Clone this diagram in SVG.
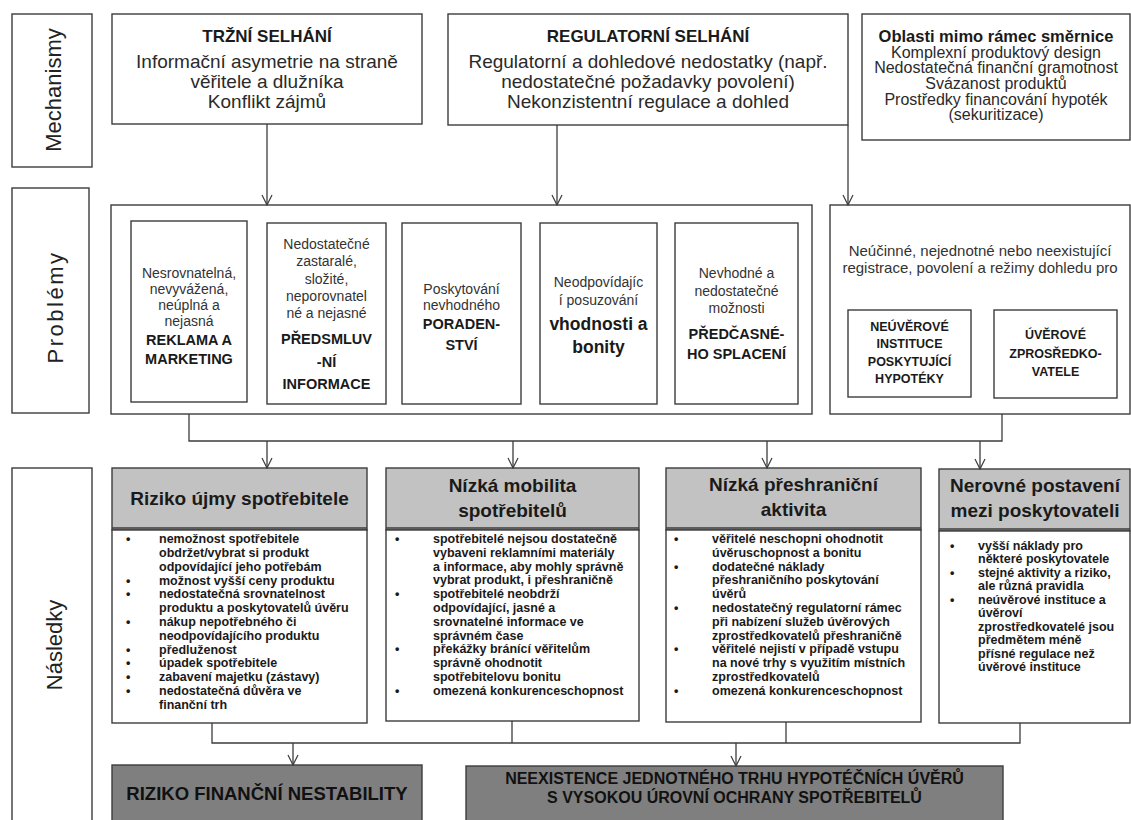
<svg xmlns="http://www.w3.org/2000/svg" width="1131" height="820" viewBox="0 0 1131 820">
<defs>
<style>
text{font-family:"Liberation Sans",Arial,sans-serif;fill:#1a1a1a}
.box{fill:#fff;stroke:#3c3c3c;stroke-width:1.4}
.hdr{fill:#c2c2c2;stroke:#3c3c3c;stroke-width:1.4}
.dark{fill:#7f7f7f;stroke:#3c3c3c;stroke-width:1.4}
.conn{fill:none;stroke:#3c3c3c;stroke-width:1.3}
.arr{marker-end:url(#arr)}
.side{font-size:22px;text-anchor:middle;fill:#222}
.t1{font-size:17px;font-weight:bold;text-anchor:middle}
.t2{font-size:19px;text-anchor:middle;fill:#2a2a2a}
.ob1{font-size:16.5px;font-weight:bold;text-anchor:middle}
.ob2{font-size:16px;text-anchor:middle;fill:#2a2a2a}
.p1{font-size:14px;text-anchor:middle;fill:#333}
.p2{font-size:14.5px;font-weight:bold;text-anchor:middle}
.p3{font-size:17.5px;font-weight:bold;text-anchor:middle}
.p4{font-size:12.5px;font-weight:bold;text-anchor:middle}
.p5{font-size:15px;text-anchor:middle;fill:#333}
.h{font-size:19px;font-weight:bold;text-anchor:middle}
.b{font-size:12.5px;font-weight:bold;fill:#222}
.f1{font-size:18.5px;font-weight:bold;text-anchor:middle;fill:#111}
.f2{font-size:16px;font-weight:bold;text-anchor:middle;fill:#111}
</style>
<marker id="arr" viewBox="0 0 12 12" refX="11" refY="6" markerWidth="12" markerHeight="12" markerUnits="userSpaceOnUse" orient="auto">
<path d="M1,1 L11,6 L1,11" fill="none" stroke="#3c3c3c" stroke-width="1.2"/>
</marker>
</defs>
<rect width="1131" height="820" fill="#fff"/>

<g id="label-mechanismy">
<rect class="box" x="12" y="14" width="80" height="153"/>
<text class="side" font-size="23" transform="translate(61,90) rotate(-90)">Mechanismy</text>
</g>
<g id="label-problemy">
<rect class="box" x="12" y="188" width="77" height="225"/>
<text class="side" letter-spacing="2.5" transform="translate(63,307) rotate(-90)">Problémy</text>
</g>
<g id="label-nasledky">
<rect class="box" x="12" y="468" width="80" height="360"/>
<text class="side" transform="translate(62,645) rotate(-90)">Následky</text>
</g>

<g id="trzni-selhani">
<rect class="box" x="112" y="14" width="310" height="110"/>
<text class="t1" x="267" y="42">TRŽNÍ SELHÁNÍ</text>
<text class="t2" x="267" y="68">Informační asymetrie na straně</text>
<text class="t2" x="267" y="88">věřitele a dlužníka</text>
<text class="t2" x="267" y="108">Konflikt zájmů</text>
</g>
<g id="regulatorni-selhani">
<rect class="box" x="448" y="14" width="400" height="111"/>
<text class="t1" x="648" y="42">REGULATORNÍ SELHÁNÍ</text>
<text class="t2" x="648" y="68">Regulatorní a dohledové nedostatky (např.</text>
<text class="t2" x="648" y="88">nedostatečné požadavky povolení)</text>
<text class="t2" x="648" y="108">Nekonzistentní regulace a dohled</text>
</g>
<g id="oblasti-mimo">
<rect class="box" x="862" y="14" width="268" height="126"/>
<text class="ob1" x="996" y="42">Oblasti mimo rámec směrnice</text>
<text class="ob2" x="996" y="57.5">Komplexní produktový design</text>
<text class="ob2" x="996" y="73">Nedostatečná finanční gramotnost</text>
<text class="ob2" x="996" y="89">Svázanost produktů</text>
<text class="ob2" x="996" y="104.5">Prostředky financování hypoték</text>
<text class="ob2" x="996" y="120">(sekuritizace)</text>
</g>

<g id="problemy-trh">
<rect class="box" x="111" y="205" width="701" height="209"/>
</g>
<g id="reklama">
<rect class="box" x="131" y="221" width="116" height="181"/>
<text class="p1" x="189" y="278">Nesrovnatelná,</text>
<text class="p1" x="189" y="294">nevyvážená,</text>
<text class="p1" x="189" y="310">neúplná a</text>
<text class="p1" x="189" y="326">nejasná</text>
<text class="p2" x="189" y="345">REKLAMA A</text>
<text class="p2" x="189" y="364">MARKETING</text>
</g>
<g id="predsmluvni">
<rect class="box" x="267" y="223" width="119" height="181"/>
<text class="p1" x="326.5" y="249">Nedostatečné</text>
<text class="p1" x="326.5" y="266">zastaralé,</text>
<text class="p1" x="326.5" y="284">složité,</text>
<text class="p1" x="326.5" y="301">neporovnatel</text>
<text class="p1" x="326.5" y="318">né a nejasné</text>
<text class="p2" x="326.5" y="344">PŘEDSMLUV</text>
<text class="p2" x="326.5" y="367">-NÍ</text>
<text class="p2" x="326.5" y="389">INFORMACE</text>
</g>
<g id="poradenstvi">
<rect class="box" x="402" y="223" width="119" height="181"/>
<text class="p1" x="461.5" y="294">Poskytování</text>
<text class="p1" x="461.5" y="310">nevhodného</text>
<text class="p2" x="461.5" y="329">PORADEN-</text>
<text class="p2" x="461.5" y="350">STVÍ</text>
</g>
<g id="vhodnost">
<rect class="box" x="540" y="223" width="117" height="181"/>
<text class="p1" x="598.5" y="287">Neodpovídajíc</text>
<text class="p1" x="598.5" y="305">í posuzování</text>
<text class="p3" x="598.5" y="330">vhodnosti a</text>
<text class="p3" x="598.5" y="353">bonity</text>
</g>
<g id="predcasne-splaceni">
<rect class="box" x="675" y="223" width="123" height="181"/>
<text class="p1" x="736.5" y="278">Nevhodné a</text>
<text class="p1" x="736.5" y="296">nedostatečné</text>
<text class="p1" x="736.5" y="313">možnosti</text>
<text class="p2" x="736.5" y="339">PŘEDČASNÉ-</text>
<text class="p2" x="736.5" y="359">HO SPLACENÍ</text>
</g>
<g id="problemy-regulace">
<rect class="box" x="830" y="205" width="300" height="209"/>
<text class="p5" x="980" y="256">Neúčinné, nejednotné nebo neexistující</text>
<text class="p5" x="980" y="273">registrace, povolení a režimy dohledu pro</text>
</g>
<g id="neuverove-instituce">
<rect class="box" x="848" y="310" width="123" height="87"/>
<text class="p4" x="909.5" y="331">NEÚVĚROVÉ</text>
<text class="p4" x="909.5" y="348">INSTITUCE</text>
<text class="p4" x="909.5" y="366">POSKYTUJÍCÍ</text>
<text class="p4" x="909.5" y="383">HYPOTÉKY</text>
</g>
<g id="uverove-zprostredkovatele">
<rect class="box" x="994" y="310" width="123" height="88"/>
<text class="p4" x="1055.5" y="339">ÚVĚROVÉ</text>
<text class="p4" x="1055.5" y="358">ZPROSŘEDKO-</text>
<text class="p4" x="1055.5" y="376">VATELE</text>
</g>

<g id="riziko-ujmy">
<rect class="hdr" x="112" y="468" width="255" height="62"/>
<line class="conn" x1="112" y1="528" x2="367" y2="528"/>
<rect class="box" x="112" y="530" width="255" height="193"/>
<text class="h" x="239.5" y="505">Riziko újmy spotřebitele</text>
<g class="b">
<text x="126" y="543">•</text><text x="159" y="543">nemožnost spotřebitele</text>
<text x="159" y="557">obdržet/vybrat si produkt</text>
<text x="159" y="571">odpovídající jeho potřebám</text>
<text x="126" y="585">•</text><text x="159" y="585">možnost vyšší ceny produktu</text>
<text x="126" y="598">•</text><text x="159" y="598">nedostatečná srovnatelnost</text>
<text x="159" y="612">produktu a poskytovatelů úvěru</text>
<text x="126" y="626">•</text><text x="159" y="626">nákup nepotřebného či</text>
<text x="159" y="640">neodpovídajícího produktu</text>
<text x="126" y="654">•</text><text x="159" y="654">předluženost</text>
<text x="126" y="667">•</text><text x="159" y="667">úpadek spotřebitele</text>
<text x="126" y="681">•</text><text x="159" y="681">zabavení majetku (zástavy)</text>
<text x="126" y="695">•</text><text x="159" y="695">nedostatečná důvěra ve</text>
<text x="159" y="709">finanční trh</text>
</g>
</g>

<g id="nizka-mobilita">
<rect class="hdr" x="386" y="468" width="253" height="62"/>
<line class="conn" x1="386" y1="528" x2="639" y2="528"/>
<rect class="box" x="386" y="530" width="253" height="191"/>
<text class="h" x="512.5" y="492">Nízká mobilita</text>
<text class="h" x="512.5" y="517">spotřebitelů</text>
<g class="b">
<text x="395" y="543">•</text><text x="433" y="543">spotřebitelé nejsou dostatečně</text>
<text x="433" y="557">vybaveni reklamními materiály</text>
<text x="433" y="571">a informace, aby mohly správně</text>
<text x="433" y="584">vybrat produkt, i přeshraničně</text>
<text x="395" y="598">•</text><text x="433" y="598">spotřebitelé neobdrží</text>
<text x="433" y="612">odpovídající, jasné a</text>
<text x="433" y="626">srovnatelné informace ve</text>
<text x="433" y="640">správném čase</text>
<text x="395" y="653">•</text><text x="433" y="653">překážky bránící věřitelům</text>
<text x="433" y="667">správně ohodnotit</text>
<text x="433" y="681">spotřebitelovu bonitu</text>
<text x="395" y="695">•</text><text x="433" y="695">omezená konkurenceschopnost</text>
</g>
</g>

<g id="nizka-preshranicni">
<rect class="hdr" x="666" y="468" width="255" height="62"/>
<line class="conn" x1="666" y1="528" x2="921" y2="528"/>
<rect class="box" x="666" y="530" width="255" height="192"/>
<text class="h" x="793.5" y="491">Nízká přeshraniční</text>
<text class="h" x="793.5" y="516">aktivita</text>
<g class="b">
<text x="674" y="543">•</text><text x="712" y="543">věřitelé neschopni ohodnotit</text>
<text x="712" y="557">úvěruschopnost a bonitu</text>
<text x="674" y="571">•</text><text x="712" y="571">dodatečné náklady</text>
<text x="712" y="584">přeshraničního poskytování</text>
<text x="712" y="598">úvěrů</text>
<text x="674" y="612">•</text><text x="712" y="612">nedostatečný regulatorní rámec</text>
<text x="712" y="626">při nabízení služeb úvěrových</text>
<text x="712" y="640">zprostředkovatelů přeshraničně</text>
<text x="674" y="653">•</text><text x="712" y="653">věřitelé nejistí v případě vstupu</text>
<text x="712" y="667">na nové trhy s využitím místních</text>
<text x="712" y="681">zprostředkovatelů</text>
<text x="674" y="695">•</text><text x="712" y="695">omezená konkurenceschopnost</text>
</g>
</g>

<g id="nerovne-postaveni">
<rect class="hdr" x="939" y="469" width="191" height="62"/>
<line class="conn" x1="939" y1="529" x2="1130" y2="529"/>
<rect class="box" x="939" y="531" width="191" height="192"/>
<text class="h" x="1035" y="492">Nerovné postavení</text>
<text class="h" x="1035" y="517">mezi poskytovateli</text>
<g class="b">
<text x="950" y="550">•</text><text x="978" y="550">vyšší náklady pro</text>
<text x="978" y="563">některé poskytovatele</text>
<text x="950" y="577">•</text><text x="978" y="577">stejné aktivity a riziko,</text>
<text x="978" y="590">ale různá pravidla</text>
<text x="950" y="604">•</text><text x="978" y="604">neúvěrové instituce a</text>
<text x="978" y="617">úvěroví</text>
<text x="978" y="631">zprostředkovatelé jsou</text>
<text x="978" y="644">předmětem méně</text>
<text x="978" y="658">přísné regulace než</text>
<text x="978" y="671">úvěrové instituce</text>
</g>
</g>

<g id="riziko-financni-nestability">
<rect class="dark" x="112" y="765" width="310" height="70"/>
<text class="f1" x="267" y="800">RIZIKO FINANČNÍ NESTABILITY</text>
</g>
<g id="neexistence-trhu">
<rect class="dark" x="466" y="766" width="537" height="70"/>
<text class="f2" x="734.5" y="784">NEEXISTENCE JEDNOTNÉHO TRHU HYPOTÉČNÍCH ÚVĚRŮ</text>
<text class="f2" x="734.5" y="803">S VYSOKOU ÚROVNÍ OCHRANY SPOTŘEBITELŮ</text>
</g>

<g id="connectors">
<path class="conn arr" d="M267,124 V205"/>
<path class="conn arr" d="M557,125 V205"/>
<path class="conn arr" d="M848,125 V205"/>
<path class="conn" d="M189,414 V441 H1002 V414"/>
<path class="conn arr" d="M267,441 V468"/>
<path class="conn arr" d="M513,441 V468"/>
<path class="conn arr" d="M767,441 V468"/>
<path class="conn arr" d="M980,441 V469"/>
<path class="conn" d="M212,723 V743 H1020 V723"/>
<path class="conn" d="M512,721 V743"/>
<path class="conn" d="M786,722 V743"/>
<path class="conn arr" d="M293,743 V765"/>
<path class="conn arr" d="M736,743 V766"/>
</g>
</svg>
